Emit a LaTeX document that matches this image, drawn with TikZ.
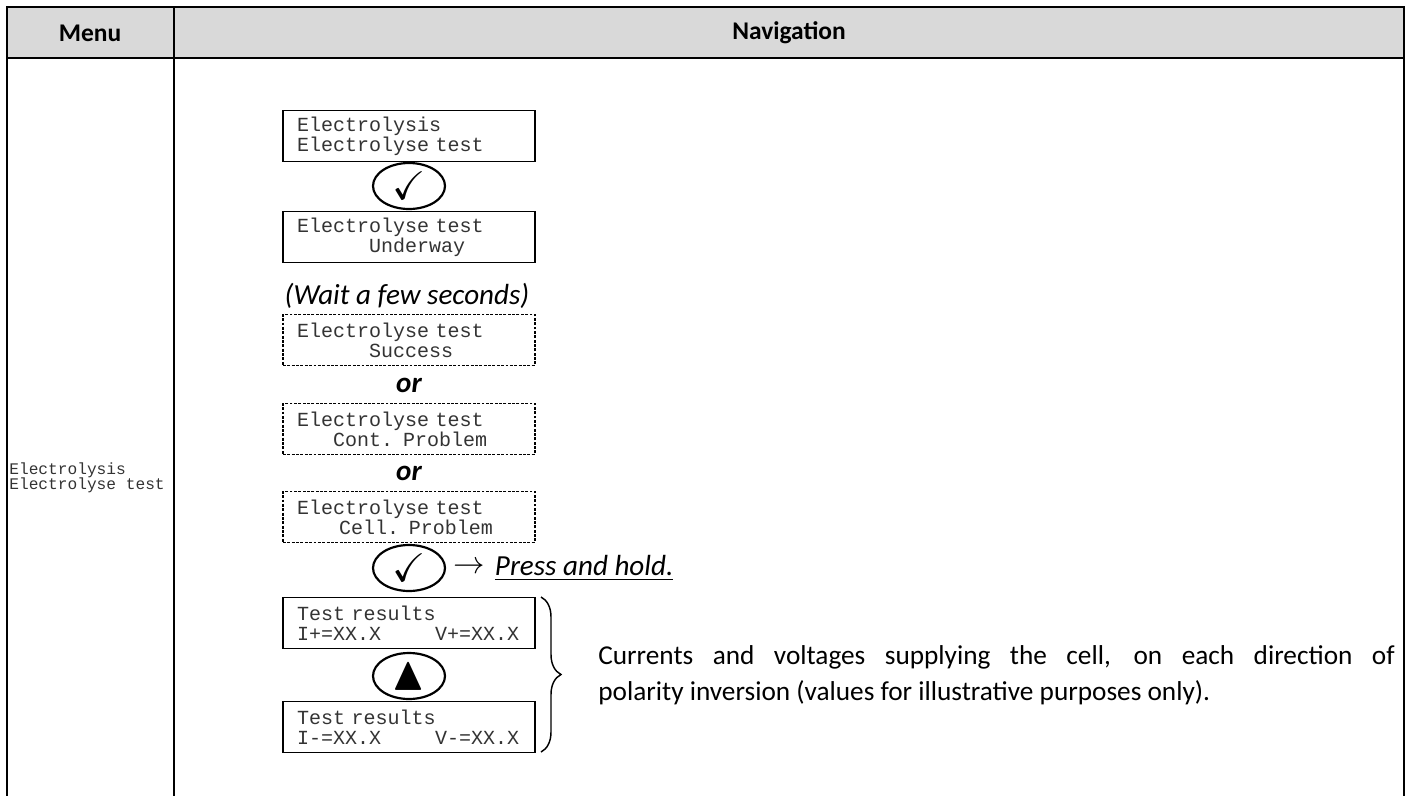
\documentclass[tikz,border=0pt]{standalone}
\usepackage{amssymb}
\usepackage{fontspec}
\setmainfont{Carlito}
\newfontfamily\lcdfont{Liberation Mono}
\usetikzlibrary{shapes.geometric,decorations.pathreplacing,positioning}
\definecolor{headgray}{HTML}{D9D9D9}
\newcommand\lcdgap[1]{\hspace*{#1\dimexpr.6em\relax}}

\begin{document}
\begin{tikzpicture}[
  x=0.55pt, y=-0.55pt,
  lcd/.style={draw, line width=1pt, minimum width=138.6pt, minimum height=28pt,
    inner xsep=7.7pt, inner ysep=0pt, text width=123.2pt, align=left,
    font=\lcdfont\fontsize{11}{11}\selectfont, text=black!80},
  lcddash/.style={lcd, line width=0.6pt, dash pattern=on 1.6pt off 0.8pt},
  key/.style={ellipse, draw, line width=1.2pt, minimum width=39.6pt,
    minimum height=25.3pt, inner sep=0pt},
  head/.style={font=\fontsize{14}{16}\selectfont\bfseries},
  note/.style={font=\fontsize{16}{19}\selectfont\itshape},
  ortext/.style={font=\fontsize{16}{19}\selectfont\bfseries\itshape},
]
\useasboundingbox (0,0) rectangle (1410,796);

% table frame
\fill[headgray] (7,7) rectangle (1404,58);
\draw[line width=1.4pt] (6,7) -- (1405,7);
\draw[line width=1.4pt] (6,58) -- (1405,58);
\draw[line width=0.9pt] (7,7) -- (7,796);
\draw[line width=0.9pt] (174,7) -- (174,796);
\draw[line width=0.9pt] (1404,7) -- (1404,796);
\node[head] (menuhead) at (90,33) {Menu};
\node[head] (navhead) at (789,33) {Navigation};

% menu column
\node[anchor=west, inner sep=0pt, align=left, text=black!80,
  font=\lcdfont\fontsize{8.9}{8.5}\selectfont] (menuitem) at (9,478)
  {Electrolysis\\Electrolyse test};

% navigation column
\node[lcd] (b1) at (409,136) {Electrolysis\\Electrolyse test};
\node[key] (k1) at (409,186) {\fontsize{22}{22}\selectfont$\checkmark$};
\node[lcd] (b2) at (409,237) {Electrolyse test\\\lcdgap{6}Underway};
\node[note] (wait) at (407,296) {(Wait a few seconds)};
\node[lcddash] (b3) at (409,340) {Electrolyse test\\\lcdgap{6}Success};
\node[ortext] (or1) at (409,385) {or};
\node[lcddash] (b4) at (409,429) {Electrolyse test\\\lcdgap{3}Cont. Problem};
\node[ortext] (or2) at (409,473) {or};
\node[lcddash] (b5) at (409,517) {Electrolyse test\\\lcdgap{3.5}Cell. Problem};
\node[key] (k2) at (409,568) {\fontsize{22}{22}\selectfont$\checkmark$};
\node[right=4pt of k2, inner sep=0pt, font=\fontsize{16}{16}\selectfont] (arr) {$\rightarrow$};
\node[note, right=5pt of arr, inner sep=0pt] (hold) {\underline{Press and hold.}};
\node[lcd] (b6) at (409,623) {Test results\\I+=XX.X\lcdgap{4.5}V+=XX.X};
\node[key] (k3) at (409,676) {\fontsize{26}{26}\selectfont$\blacktriangle$};
\node[lcd] (b7) at (409,727) {Test results\\I-=XX.X\lcdgap{4.5}V-=XX.X};

\coordinate (bracetop) at (541,597);
\coordinate (bracebot) at (541,752);
\draw[line width=0.8pt, decorate, decoration={brace, amplitude=11pt}]
  (bracetop) -- (bracebot);
\node[anchor=west, inner sep=0pt, text width=438pt, align=justify,
  font=\fontsize{15}{19.5}\selectfont] (desc) at (598,675)
  {Currents and voltages supplying the cell, on each direction of\linebreak
   polarity inversion (values for illustrative purposes only).};
\end{tikzpicture}
\end{document}
